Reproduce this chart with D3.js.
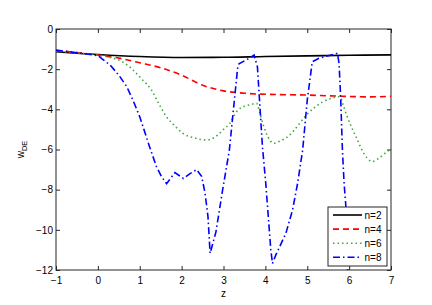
<!DOCTYPE html>
<html>
<head>
  <meta charset="utf-8">
  <title>w_DE vs z</title>
  <style>
    body { margin: 0; background: #fff; font-family: "Liberation Sans", Arial, Helvetica, sans-serif; }
    .axis text { font-size: 10px; fill: #000; font-family: "Liberation Sans", Arial, Helvetica, sans-serif; }
    .axis line { stroke: #262626; }
  </style>
</head>
<body>
  <script src="https://cdn.jsdelivr.net/npm/d3@7"></script>
  <script>
    // ticks
    var xTicks = [-1, 0, 1, 2, 3, 4, 5, 6, 7];
    var yTicks = [0, -2, -4, -6, -8, -10, -12];
    var seriesNames = ["n=2", "n=4", "n=6", "n=8"];

    // n=2
    var z2 = [-1, 0, 1, 2, 3, 4, 5, 6, 7];
    var w2 = [-1.13, -1.27, -1.37, -1.42, -1.41, -1.37, -1.34, -1.31, -1.29];
    // n=4
    var z4 = [-1, -0.5, 0, 0.5, 1, 1.5, 2, 2.5, 3, 3.5, 4, 5, 6, 6.5, 7];
    var w4 = [-1.07, -1.17, -1.3, -1.45, -1.68, -1.93, -2.3, -2.8, -3.08, -3.2, -3.25, -3.29, -3.36, -3.38, -3.35];
    // n=6
    var z6 = [-1, -0.5, 0, 0.3, 0.6, 0.84, 1.05, 1.28, 1.45, 1.64, 1.85, 2.03, 2.3, 2.6, 2.85, 3.0, 3.15, 3.31,
      3.5, 3.63, 3.79, 3.87, 3.95, 4.07, 4.19, 4.35, 4.58, 4.78, 4.98, 5.18, 5.38, 5.58, 5.78, 5.86, 5.94,
      6.06, 6.18, 6.3, 6.42, 6.55, 6.7, 6.85, 7];
    var w6 = [-1.08, -1.2, -1.3, -1.42, -1.65, -2.04, -2.5, -3.04, -3.7, -4.37, -4.85, -5.2, -5.42, -5.53, -5.3,
      -5.0, -4.7, -4.12, -3.85, -3.78, -3.7, -4.2, -4.78, -5.4, -5.69, -5.58, -5.28, -4.8, -4.28, -3.9, -3.62,
      -3.45, -3.37, -3.8, -4.28, -4.9, -5.44, -6.0, -6.4, -6.6, -6.45, -6.2, -5.95];
    // n=8
    var z8 = [-1, -0.5, 0, 0.29, 0.5, 0.69, 0.85, 1.0, 1.24, 1.4, 1.52, 1.64, 1.84, 2.04, 2.2, 2.36, 2.48, 2.56,
      2.63, 2.68, 2.82, 2.98, 3.14, 3.26, 3.34, 3.37, 3.61, 3.73, 3.81, 3.93, 4.01, 4.13, 4.17, 4.25, 4.49,
      4.65, 4.77, 4.89, 5.0, 5.12, 5.28, 5.72, 5.76, 5.8, 5.84, 5.88, 5.92, 5.97];
    var w8 = [-1.05, -1.18, -1.33, -1.79, -2.3, -2.87, -3.6, -4.37, -5.9, -6.86, -7.35, -7.7, -7.15, -7.44, -7.2,
      -7.0, -7.35, -8.18, -9.35, -11.17, -10.1, -8.0, -6.03, -3.54, -1.88, -1.73, -1.46, -1.3, -1.88, -5.86,
      -7.7, -11.0, -11.67, -11.25, -10.17, -9.0, -7.68, -6.03, -3.54, -1.63, -1.46, -1.21, -1.71, -3.54,
      -6.03, -7.68, -8.76, -12.3];

    var W = 432, H = 305;
    var pL = 56, pR = 391, pT = 29, pB = 270;

    var x = d3.scaleLinear().domain([-1, 7]).range([pL, pR]);
    var y = d3.scaleLinear().domain([-12, 0]).range([pB, pT]);

    var svg = d3.select("body").append("svg")
      .attr("width", W)
      .attr("height", H);

    svg.append("defs").append("clipPath").attr("id", "plot")
      .append("rect")
      .attr("x", pL).attr("y", pT)
      .attr("width", pR - pL).attr("height", pB - pT);

    // axes, ticks inward
    svg.append("g").attr("class", "axis")
      .attr("transform", "translate(0," + pB + ")")
      .call(d3.axisBottom(x).tickValues(xTicks).tickSizeInner(-4).tickSizeOuter(0).tickPadding(6.5)
        .tickFormat(d3.format("d")))
      .call(g => g.select(".domain").remove());
    svg.append("g").attr("class", "axis")
      .attr("transform", "translate(0," + pT + ")")
      .call(d3.axisTop(x).tickValues(xTicks).tickSizeInner(-4).tickSizeOuter(0).tickFormat(""))
      .call(g => g.select(".domain").remove());
    svg.append("g").attr("class", "axis")
      .attr("transform", "translate(" + pL + ",0)")
      .call(d3.axisLeft(y).tickValues(yTicks).tickSizeInner(-4).tickSizeOuter(0).tickPadding(3)
        .tickFormat(d3.format("d")))
      .call(g => g.select(".domain").remove());
    svg.append("g").attr("class", "axis")
      .attr("transform", "translate(" + pR + ",0)")
      .call(d3.axisRight(y).tickValues(yTicks).tickSizeInner(-4).tickSizeOuter(0).tickFormat(""))
      .call(g => g.select(".domain").remove());

    svg.append("rect")
      .attr("x", pL).attr("y", pT)
      .attr("width", pR - pL).attr("height", pB - pT)
      .attr("fill", "none")
      .attr("stroke", "#262626")
      .attr("stroke-width", 1);

    var series = [
      { name: seriesNames[0], z: z2, w: w2, color: "#000000", dash: null, curve: d3.curveMonotoneX },
      { name: seriesNames[1], z: z4, w: w4, color: "#ff0000", dash: "6,4", curve: d3.curveMonotoneX },
      { name: seriesNames[2], z: z6, w: w6, color: "#3fa83f", dash: "1.5,3", curve: d3.curveMonotoneX },
      { name: seriesNames[3], z: z8, w: w8, color: "#0000ff", dash: "7,3,1.5,3", curve: d3.curveLinear }
    ];

    var lines = svg.append("g").attr("clip-path", "url(#plot)");
    series.forEach(function (s) {
      var pts = s.z.map(function (d, i) { return [d, s.w[i]]; });
      lines.append("path")
        .datum(pts)
        .attr("fill", "none")
        .attr("stroke", s.color)
        .attr("stroke-width", 1.6)
        .attr("stroke-dasharray", s.dash)
        .attr("d", d3.line().x(d => x(d[0])).y(d => y(d[1])).curve(s.curve));
    });

    // legend
    var lg = svg.append("g").attr("transform", "translate(328,207)");
    lg.append("rect")
      .attr("width", 59).attr("height", 59)
      .attr("fill", "#fff")
      .attr("stroke", "#262626");
    series.forEach(function (s, i) {
      var ly = 8 + i * 14.1;
      lg.append("line")
        .attr("x1", 5).attr("x2", 34)
        .attr("y1", ly).attr("y2", ly)
        .attr("stroke", s.color)
        .attr("stroke-width", 1.6)
        .attr("stroke-dasharray", s.dash);
      lg.append("text")
        .attr("x", 36.5).attr("y", ly)
        .attr("dy", "0.35em")
        .attr("font-size", "10px")
        .text(s.name);
    });

    // axis labels
    svg.append("text")
      .attr("x", (pL + pR) / 2).attr("y", 297)
      .attr("text-anchor", "middle")
      .attr("font-size", "10px")
      .text("z");

    var yl = svg.append("text")
      .attr("transform", "translate(24," + ((pT + pB) / 2) + ") rotate(-90)")
      .attr("text-anchor", "middle")
      .attr("font-size", "10px");
    yl.append("tspan").text("w");
    yl.append("tspan").attr("dy", "3").attr("font-size", "7.5px").text("DE");
  </script>
</body>
</html>
